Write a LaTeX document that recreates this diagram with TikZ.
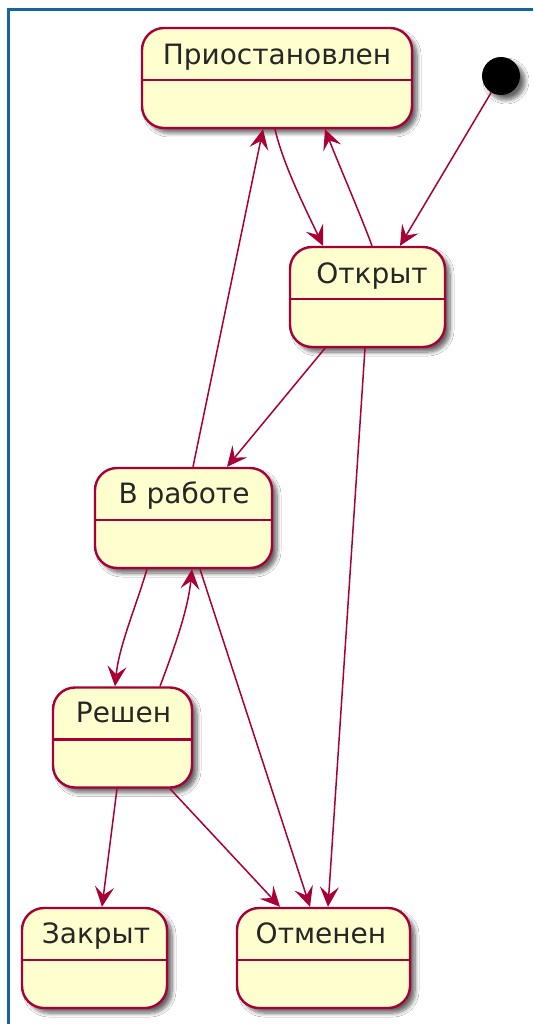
\documentclass[tikz,border=0pt]{standalone}
\usepackage{fontspec}
\setmainfont{DejaVu Sans}
\usetikzlibrary{arrows.meta,shadows.blur}
\definecolor{umlfill}{HTML}{FEFECE}
\definecolor{umlline}{HTML}{A80036}
\definecolor{framecol}{RGB}{20,100,160}
\tikzset{
  statebox/.style={draw=umlline, fill=umlfill, line width=2.4pt, rounded corners=22pt,
    inner sep=0pt,
    blur shadow={shadow xshift=5pt, shadow yshift=-5pt, shadow blur steps=8, shadow blur radius=4pt, shadow opacity=60}},
  titletext/.style={anchor=base, inner sep=0pt, font=\fontsize{28}{32}\selectfont, text=black!85},
  divider/.style={draw=umlline, line width=2.4pt},
  trans/.style={draw=umlline, line width=1.5pt, -{Stealth[length=20pt,width=19pt,inset=8pt]}},
  initdot/.style={circle, fill=black, minimum size=38pt, inner sep=0pt,
    blur shadow={shadow xshift=5pt, shadow yshift=-5pt, shadow blur steps=8, shadow blur radius=4pt, shadow opacity=60}},
  frameline/.style={draw=framecol, line width=3pt}
}
\begin{document}
\begin{tikzpicture}[x=1pt,y=-1pt]
\useasboundingbox (0,0) rectangle (533,1024);
\fill[white] (0,0) rectangle (533,1024);
\coordinate (fa) at (8.5,1024);
\coordinate (fb) at (8.5,9.5);
\coordinate (fc) at (533,9.5);
\draw[frameline] (fa) -- (fb) -- (fc);

% states
\node[statebox, minimum width=270pt, minimum height=100pt] (P) at (277,78) {};
\node[statebox, minimum width=155pt, minimum height=100pt] (O) at (367.5,297) {};
\node[statebox, minimum width=177pt, minimum height=100pt] (W) at (183.5,518) {};
\node[statebox, minimum width=139pt, minimum height=100pt] (R) at (122.5,737.5) {};
\node[statebox, minimum width=145pt, minimum height=100pt] (Z) at (94.5,958) {};
\node[statebox, minimum width=173pt, minimum height=100pt] (C) at (323.5,958) {};
\node[initdot] (I) at (501,76) {};

\foreach \n in {P,O,W,R,Z,C}{
  \draw[divider] ([yshift=-2pt]\n.west) -- ([yshift=-2pt]\n.east);
}

\node[titletext] (Pt) at (277,65) {Приостановлен};
\node[titletext] (Ot) at (372,283) {Открыт};
\node[titletext] (Wt) at (184,503) {В работе};
\node[titletext] (Rt) at (123.5,722) {Решен};
\node[titletext] (Zt) at (96,943) {Закрыт};
\node[titletext] (Ct) at (321,943) {Отменен};

% transitions
\draw[trans] (I) -- ([xshift=32.5pt]O.north);
\draw[trans] ([xshift=-2pt]P.south) .. controls +(8,35) and +(-18,-38) .. ([xshift=-44.5pt]O.north);
\draw[trans] ([xshift=4.5pt]O.north) .. controls +(-13,-35) and +(14,36) .. ([xshift=48pt]P.south);
\draw[trans] ([xshift=-42.5pt]O.south) -- ([xshift=43.5pt]W.north);
\draw[trans] ([xshift=-2.5pt]O.south) -- ([xshift=4.5pt]C.north);
\draw[trans] ([xshift=9.5pt]W.north) -- ([xshift=-14pt]P.south);
\draw[trans] ([xshift=-36.5pt]W.south) .. controls +(-12,40) and +(4,-40) .. ([xshift=-7.5pt]R.north);
\draw[trans] ([xshift=37.5pt]R.north) .. controls +(15,-40) and +(-4,40) .. ([xshift=8.5pt]W.south);
\draw[trans] ([xshift=16.5pt]W.south) -- ([xshift=-13.5pt]C.north);
\draw[trans] ([xshift=-5.5pt]R.south) -- ([xshift=7.5pt]Z.north);
\draw[trans] ([xshift=47.5pt]R.south) -- ([xshift=-43.5pt]C.north);
\end{tikzpicture}
\end{document}
